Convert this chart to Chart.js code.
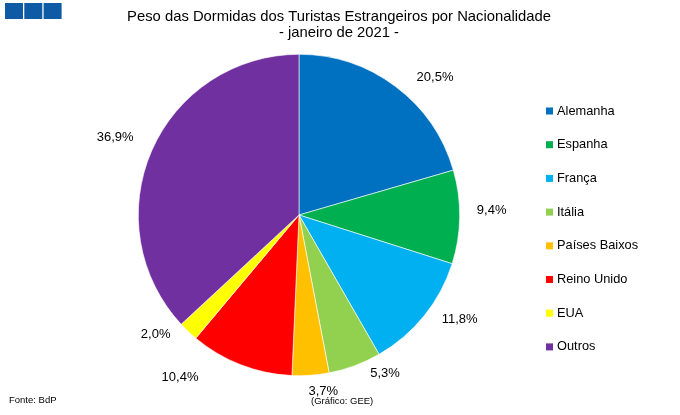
<!DOCTYPE html>
<html>
<head>
<meta charset="utf-8">
<script src="https://cdn.jsdelivr.net/npm/chart.js@4.4.1/dist/chart.umd.min.js"></script>
<style>
  html, body { margin: 0; padding: 0; background: #fff; }
  #wrap { position: relative; width: 680px; height: 415px; }
</style>
</head>
<body>
<div id="wrap"><canvas id="pieChart" width="680" height="415"></canvas></div>
<script>
// dados (Fonte: BdP)
const nacionalidades = ['Alemanha', 'Espanha', 'França', 'Itália', 'Países Baixos', 'Reino Unido', 'EUA', 'Outros'];
const pesos = [20.5, 9.4, 11.8, 5.3, 3.7, 10.4, 2.0, 36.9];
const cores = ['#0070C0', '#00B050', '#00B0F0', '#92D050', '#FFC000', '#FF0000', '#FFFF00', '#7030A0'];
const titulo = ['Peso das Dormidas dos Turistas Estrangeiros por Nacionalidade', '- janeiro de 2021 -'];

// pequenos acertos dos rotulos (graus, distancia extra) como no Excel
const ajusteAng = [7.7, -2.2, -5.8, -8.1, -3.7, 14.9, 6.6, -0.6];
const ajusteDist = [33, 32, 31, 20, 17, 41, 26, 39];

const FONT = 'Arial, "Liberation Sans", sans-serif';

function fmt(v) {
    return v.toFixed(1).replace('.', ',') + '%';
}

// titulo, logo, rodape, legenda e rotulos desenhados à mão
const extras = {
    id: 'extras',
    afterDraw(chart) {
        const ctx = chart.ctx;
        ctx.save();

        // logo
        ctx.fillStyle = '#0f5aa5';
        for (let k = 0; k < 3; k++) {
            ctx.fillRect(5 + k * 19.3, 3, 18, 16);
        }

        // titulo
        ctx.fillStyle = '#000';
        ctx.font = '14.8px ' + FONT;
        ctx.textAlign = 'center';
        ctx.textBaseline = 'middle';
        ctx.fillText(titulo[0], 339, 17);
        ctx.fillText(titulo[1], 339, 33);

        // rodape
        ctx.font = '9.5px ' + FONT;
        ctx.textAlign = 'left';
        ctx.fillText('Fonte: BdP', 9, 400);
        ctx.fillText('(Gráfico: GEE)', 311, 401);

        // legenda
        ctx.font = '12.8px ' + FONT;
        nacionalidades.forEach(function (n, i) {
            let y = 111 + i * 33.7;
            ctx.fillStyle = cores[i];
            ctx.fillRect(546, y - 3.5, 7, 7);
            ctx.fillStyle = '#000';
            ctx.fillText(n, 557, y);
        });

        // rotulos das fatias
        let arcs = chart.getDatasetMeta(0).data;
        ctx.font = '13px ' + FONT;
        ctx.textAlign = 'center';
        arcs.forEach(function (a, i) {
            let ang = (a.startAngle + a.endAngle) / 2 + ajusteAng[i] * Math.PI / 180;
            let d = a.outerRadius + ajusteDist[i];
            let x = a.x + Math.cos(ang) * d;
            let y = a.y + Math.sin(ang) * d;
            ctx.fillStyle = '#000';
            ctx.fillText(fmt(pesos[i]), x, y);
        });

        ctx.restore();
    }
};

var ctx = document.getElementById('pieChart');
var pieChart = new Chart(ctx, {
    type: 'pie',
    data: {
        labels: nacionalidades,
        datasets: [{
            data: pesos,
            backgroundColor: cores,
            borderColor: '#ffffff',
            borderWidth: 0.6
        }]
    },
    options: {
        responsive: false,
        animation: false,
        layout: { padding: { left: 138, right: 220, top: 54, bottom: 39 } },
        plugins: {
            legend: { display: false },
            title: { display: false },
            tooltip: { enabled: false }
        }
    },
    plugins: [extras]
});
</script>
</body>
</html>
